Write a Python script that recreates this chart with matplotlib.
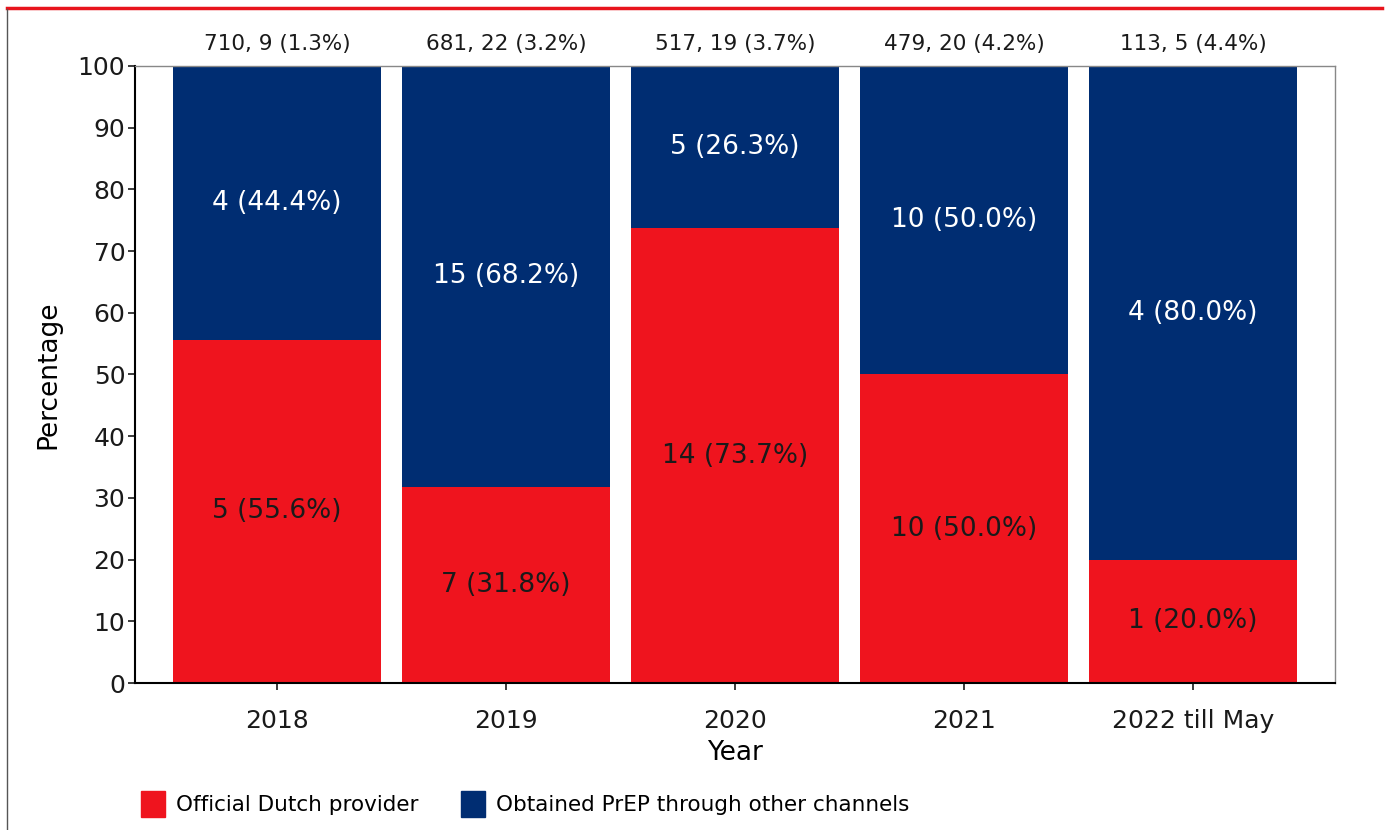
import matplotlib.pyplot as plt
from matplotlib.patches import Patch
from matplotlib.lines import Line2D

years = ['2018', '2019', '2020', '2021', '2022 till May']
totals = [710, 681, 517, 479, 113]
prep_users = [9, 22, 19, 20, 5]
prep_share = [1.3, 3.2, 3.7, 4.2, 4.4]
official_n = [5, 7, 14, 10, 1]
official_pct = [55.6, 31.8, 73.7, 50.0, 20.0]
other_n = [4, 15, 5, 10, 4]
other_pct = [44.4, 68.2, 26.3, 50.0, 80.0]

red = '#EF141E'
navy = '#002D72'

plt.rcParams['font.family'] = ['DejaVu Sans']

fig = plt.figure(figsize=(13.89, 8.30), dpi=100)
ax = fig.add_axes([135 / 1389, 1 - 683 / 830, 1200 / 1389, 617 / 830])

x = range(len(years))
ax.bar(x, official_pct, width=0.905, color=red)
ax.bar(x, other_pct, width=0.905, bottom=official_pct, color=navy)

for i in x:
    ax.text(i, official_pct[i] / 2, f'{official_n[i]} ({official_pct[i]:.1f}%)',
            ha='center', va='center', fontsize=19, color='#1a1a1a')
    ax.text(i, official_pct[i] + other_pct[i] / 2, f'{other_n[i]} ({other_pct[i]:.1f}%)',
            ha='center', va='center', fontsize=19, color='white')
    ax.text(i, 103.5, f'{totals[i]}, {prep_users[i]} ({prep_share[i]}%)',
            ha='center', va='center', fontsize=15.5, color='#1a1a1a')

ax.set_xlim(-0.62, 4.62)
ax.set_ylim(0, 100)
ax.set_yticks(range(0, 101, 10))
ax.set_xticks(list(x))
ax.set_xticklabels(years)
ax.tick_params(axis='both', labelsize=18, length=5, width=1.2, colors='#1a1a1a')
ax.tick_params(axis='x', pad=14)
ax.tick_params(axis='y', pad=2)
ax.set_xlabel('Year', fontsize=19, labelpad=5)
ax.set_ylabel('Percentage', fontsize=19, labelpad=12)
for s in ['top', 'right']:
    ax.spines[s].set_color('#888888')
    ax.spines[s].set_linewidth(1)
for s in ['left', 'bottom']:
    ax.spines[s].set_linewidth(1.5)

handles = [Patch(color=red, label='Official Dutch provider'),
           Patch(color=navy, label='Obtained PrEP through other channels')]
fig.legend(handles=handles, loc='lower left', bbox_to_anchor=(122 / 1389, -0.008),
           ncol=2, frameon=False, fontsize=15.5, handlelength=1.1, handleheight=1.5,
           columnspacing=2.0, handletextpad=0.5)

# frame lines of the original figure
fig.add_artist(Line2D([0.005, 0.995], [1 - 8 / 830, 1 - 8 / 830], color='#E8141C', lw=2.5,
                      transform=fig.transFigure))
fig.add_artist(Line2D([7 / 1389, 7 / 1389], [0, 1 - 9 / 830], color='#555555', lw=1,
                      transform=fig.transFigure))

fig.savefig('out.png', dpi=100)
